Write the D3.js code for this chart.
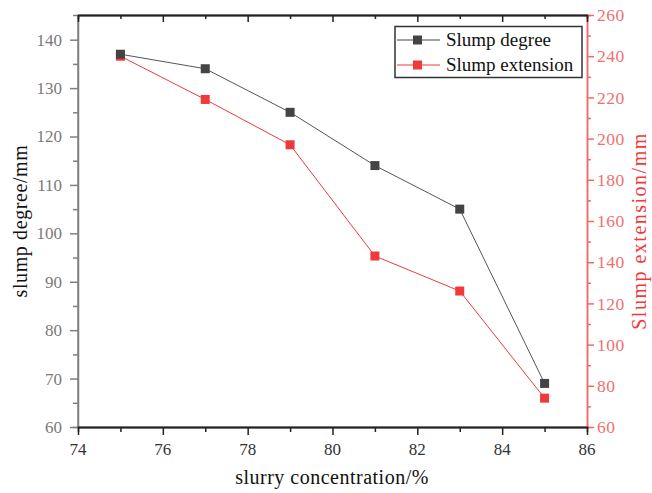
<!DOCTYPE html>
<html><head><meta charset="utf-8">
<script src="https://cdn.jsdelivr.net/npm/d3@7"></script>
<style>body{margin:0;background:#fff}svg{display:block}text{font-family:"Liberation Serif","Times New Roman",serif}</style>
</head><body><svg id="c" width="652" height="493"></svg>
<script>
const concentration = [75, 77, 79, 81, 83, 85];
const slumpDegree = [137, 134, 125, 114, 105, 69];
const slumpExtension = [240, 219, 197, 143, 126, 74];
const xTicks = [74, 76, 78, 80, 82, 84, 86];
const leftTicks = [60, 70, 80, 90, 100, 110, 120, 130, 140];
const rightTicks = [60, 80, 100, 120, 140, 160, 180, 200, 220, 240, 260];

const svg = d3.select("#c");
const L = 78, R = 587, T = 15, B = 427;
const x = d3.scaleLinear().domain([74, 86]).range([L, R]);
const yL = d3.scaleLinear().domain([60, 145.1]).range([B, T]);
const yR = d3.scaleLinear().domain([60, 260]).range([B, T]);
const red = "#f03a3a", dark = "#444", redAxis = "#f06a6a";

// left axis
const gl = svg.append("g").attr("transform", `translate(${L},0)`);
gl.call(d3.axisLeft(yL).tickValues(leftTicks).tickSize(8).tickSizeOuter(0).tickFormat(""));
gl.append("g").call(d3.axisLeft(yL).tickValues(d3.range(65, 145, 10)).tickSize(5).tickFormat(""));
gl.select(".domain").attr("d", `M0,${B}V${T}`);
gl.selectAll("path,line").attr("stroke", "#808080").attr("stroke-width", 1.5);
svg.append("g").selectAll("text").data(leftTicks).enter().append("text")
  .attr("x", L - 16).attr("y", d => yL(d)).attr("dy", "0.35em").attr("text-anchor", "end")
  .attr("font-size", 17).attr("fill", "#7a7a7a").text(d => d);

// right axis
const gr = svg.append("g").attr("transform", `translate(${R},0)`);
gr.call(d3.axisRight(yR).tickValues(rightTicks).tickSize(7).tickSizeOuter(0).tickFormat(""));
gr.append("g").call(d3.axisRight(yR).tickValues(d3.range(70, 260, 20)).tickSize(4).tickFormat(""));
gr.selectAll("path,line").attr("stroke", redAxis).attr("stroke-width", 1.5);
svg.append("g").selectAll("text").data(rightTicks).enter().append("text")
  .attr("x", R + 10).attr("y", d => yR(d)).attr("dy", "0.35em").attr("text-anchor", "start")
  .attr("font-size", 17.5).attr("letter-spacing", 0.5).attr("fill", "#f07070").text(d => d);

// top axis
const gt = svg.append("g").attr("transform", `translate(0,${T})`);
gt.call(d3.axisTop(x).tickValues(xTicks).tickSize(-7).tickSizeOuter(0).tickFormat(""));
gt.append("g").call(d3.axisTop(x).tickValues(d3.range(75, 86, 2)).tickSize(-4).tickFormat(""));
gt.selectAll("path,line").attr("stroke", "#222").attr("stroke-width", 1.5);
gt.select(".domain").attr("stroke-width", 2);

// bottom axis
const gb = svg.append("g").attr("transform", `translate(0,${B})`);
gb.call(d3.axisBottom(x).tickValues(xTicks).tickSize(8).tickSizeOuter(0).tickFormat(""));
gb.append("g").call(d3.axisBottom(x).tickValues(d3.range(75, 86, 2)).tickSize(5).tickFormat(""));
gb.selectAll("path,line").attr("stroke", "#222").attr("stroke-width", 1.5);
gb.select(".domain").attr("stroke-width", 2);
svg.append("g").selectAll("text").data(xTicks).enter().append("text")
  .attr("x", d => x(d)).attr("y", B + 28).attr("text-anchor", "middle")
  .attr("font-size", 17).attr("fill", "#333").text(d => d);

// lines
const lineL = d3.line().x((d, i) => x(concentration[i])).y(d => yL(d));
const lineR = d3.line().x((d, i) => x(concentration[i])).y(d => yR(d));
svg.append("path").datum(slumpDegree).attr("d", lineL).attr("fill", "none").attr("stroke", "#555").attr("stroke-width", 1);
svg.append("path").datum(slumpExtension).attr("d", lineR).attr("fill", "none").attr("stroke", red).attr("stroke-width", 1);
const ms = 9;
svg.selectAll(".me").data(slumpExtension).enter().append("rect")
  .attr("x", (d, i) => x(concentration[i]) - ms / 2).attr("y", d => yR(d) - ms / 2)
  .attr("width", ms).attr("height", ms).attr("fill", red);
svg.selectAll(".md").data(slumpDegree).enter().append("rect")
  .attr("x", (d, i) => x(concentration[i]) - ms / 2).attr("y", d => yL(d) - ms / 2)
  .attr("width", ms).attr("height", ms).attr("fill", dark);

// legend
const lg = svg.append("g");
lg.append("rect").attr("x", 395).attr("y", 26.5).attr("width", 187).attr("height", 51)
  .attr("fill", "#fff").attr("stroke", "#333").attr("stroke-width", 1.5);
const items = [["Slump degree", dark, 40], ["Slump extension", red, 65]];
items.forEach(([t, c, yy]) => {
  lg.append("line").attr("x1", 397).attr("x2", 440).attr("y1", yy).attr("y2", yy).attr("stroke", c).attr("stroke-width", 1);
  lg.append("rect").attr("x", 417.5 - ms / 2).attr("y", yy - ms / 2).attr("width", ms).attr("height", ms).attr("fill", c);
  lg.append("text").attr("x", 446).attr("y", yy + 6).attr("font-size", 19).attr("fill", "#111").text(t);
});

// titles
svg.append("text").attr("transform", `translate(27,221) rotate(-90)`)
  .attr("text-anchor", "middle").attr("font-size", 20).attr("letter-spacing", 0.6).attr("fill", "#111").text("slump degree/mm");
svg.append("text").attr("transform", `translate(646,231) rotate(-90)`)
  .attr("text-anchor", "middle").attr("font-size", 20).attr("letter-spacing", 1.5).attr("fill", red).text("Slump extension/mm");
svg.append("text").attr("x", 332).attr("y", 484)
  .attr("text-anchor", "middle").attr("font-size", 20).attr("letter-spacing", 0.5).attr("fill", "#111").text("slurry concentration/%");
</script></body></html>
